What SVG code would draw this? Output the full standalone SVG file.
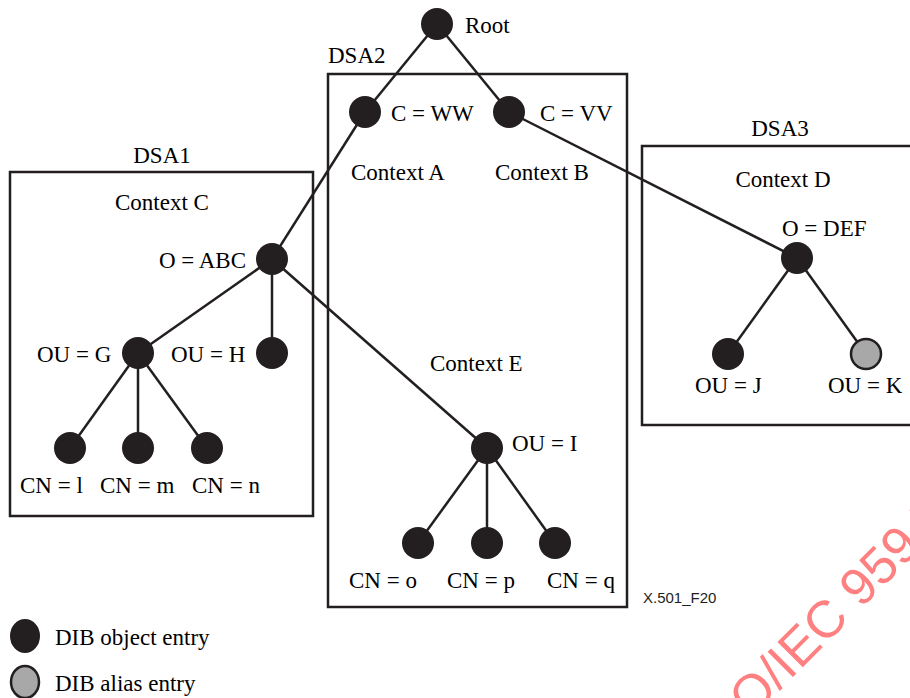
<svg xmlns="http://www.w3.org/2000/svg" width="910" height="698" viewBox="0 0 910 698">
<style>
.t{font-family:"Liberation Serif","Times New Roman",serif;font-size:23px;fill:#000}
.box{fill:none;stroke:#231f20;stroke-width:2.5}
.e{stroke:#231f20;stroke-width:2.5;fill:none}
.obj{fill:#231f20}
.alias{fill:#a8a8a8;stroke:#231f20;stroke-width:2.5}
.wm{font-family:"Liberation Sans",Arial,sans-serif;font-size:52px;fill:#ff8080}
</style>
<rect width="910" height="698" fill="#fff"/>
<g id="dsa-boxes">
<rect class="box" x="328" y="74" width="299" height="533"/>
<text class="t" x="328" y="63">DSA2</text>
<rect class="box" x="10" y="172" width="303" height="344"/>
<text class="t" x="162" y="163" text-anchor="middle">DSA1</text>
<rect class="box" x="642" y="146" width="272" height="279"/>
<text class="t" x="780" y="136" text-anchor="middle">DSA3</text>
</g>
<g id="connectors">
<line class="e" x1="437" y1="24" x2="365" y2="112"/>
<line class="e" x1="437" y1="24" x2="509" y2="112"/>
<line class="e" x1="365" y1="112" x2="272" y2="259"/>
<line class="e" x1="509" y1="112" x2="797" y2="258"/>
<line class="e" x1="272" y1="259" x2="138" y2="353"/>
<line class="e" x1="272" y1="259" x2="272" y2="353"/>
<line class="e" x1="272" y1="259" x2="487" y2="448"/>
<line class="e" x1="138" y1="353" x2="70" y2="448"/>
<line class="e" x1="138" y1="353" x2="138" y2="448"/>
<line class="e" x1="138" y1="353" x2="207" y2="448"/>
<line class="e" x1="487" y1="448" x2="418" y2="543"/>
<line class="e" x1="487" y1="448" x2="487" y2="543"/>
<line class="e" x1="487" y1="448" x2="555" y2="543"/>
<line class="e" x1="797" y1="258" x2="728" y2="354"/>
<line class="e" x1="797" y1="258" x2="866" y2="354"/>
</g>
<g id="root"><circle class="obj" cx="437" cy="24" r="16"/><text class="t" x="465" y="33">Root</text></g>
<g id="c-ww"><circle class="obj" cx="365" cy="112" r="16"/><text class="t" x="391" y="121">C = WW</text></g>
<g id="c-vv"><circle class="obj" cx="509" cy="112" r="16"/><text class="t" x="540" y="121">C = VV</text></g>
<g id="context-a"><text class="t" x="351" y="180">Context A</text></g>
<g id="context-b"><text class="t" x="495" y="180">Context B</text></g>
<g id="context-c"><text class="t" x="162" y="210" text-anchor="middle">Context C</text></g>
<g id="o-abc"><circle class="obj" cx="272" cy="259" r="16"/><text class="t" x="246" y="268" text-anchor="end">O = ABC</text></g>
<g id="ou-g"><circle class="obj" cx="138" cy="353" r="16"/><text class="t" x="37" y="362">OU = G</text></g>
<g id="ou-h"><circle class="obj" cx="272" cy="353" r="16"/><text class="t" x="171" y="362">OU = H</text></g>
<g id="cn-l"><circle class="obj" cx="70" cy="448" r="16"/><text class="t" x="20" y="493">CN = l</text></g>
<g id="cn-m"><circle class="obj" cx="138" cy="448" r="16"/><text class="t" x="100" y="493">CN = m</text></g>
<g id="cn-n"><circle class="obj" cx="207" cy="448" r="16"/><text class="t" x="192" y="493">CN = n</text></g>
<g id="context-d"><text class="t" x="783" y="187" text-anchor="middle">Context D</text></g>
<g id="o-def"><circle class="obj" cx="797" cy="258" r="16"/><text class="t" x="782" y="236">O = DEF</text></g>
<g id="ou-j"><circle class="obj" cx="728" cy="354" r="16"/><text class="t" x="695" y="393">OU = J</text></g>
<g id="ou-k"><circle class="alias" cx="866" cy="354" r="15"/><text class="t" x="828" y="393">OU = K</text></g>
<g id="context-e"><text class="t" x="430" y="371">Context E</text></g>
<g id="ou-i"><circle class="obj" cx="487" cy="448" r="16"/><text class="t" x="512" y="451">OU = I</text></g>
<g id="cn-o"><circle class="obj" cx="418" cy="543" r="16"/><text class="t" x="349" y="588">CN = o</text></g>
<g id="cn-p"><circle class="obj" cx="487" cy="543" r="16"/><text class="t" x="447" y="588">CN = p</text></g>
<g id="cn-q"><circle class="obj" cx="555" cy="543" r="16"/><text class="t" x="547" y="588">CN = q</text></g>
<g id="figure-id"><text x="643" y="603" font-family="Liberation Sans, Arial, sans-serif" font-size="15" fill="#231f20">X.501_F20</text></g>
<g id="legend">
<ellipse class="obj" cx="25" cy="636" rx="15" ry="17"/>
<text class="t" x="55" y="645">DIB object entry</text>
<ellipse class="alias" cx="25" cy="682" rx="14" ry="16"/>
<text class="t" x="55" y="691">DIB alias entry</text>
</g>
<g id="watermark"><text class="wm" x="0" y="0" transform="translate(716,754) rotate(-45)">ISO/IEC 9594</text></g>
</svg>
